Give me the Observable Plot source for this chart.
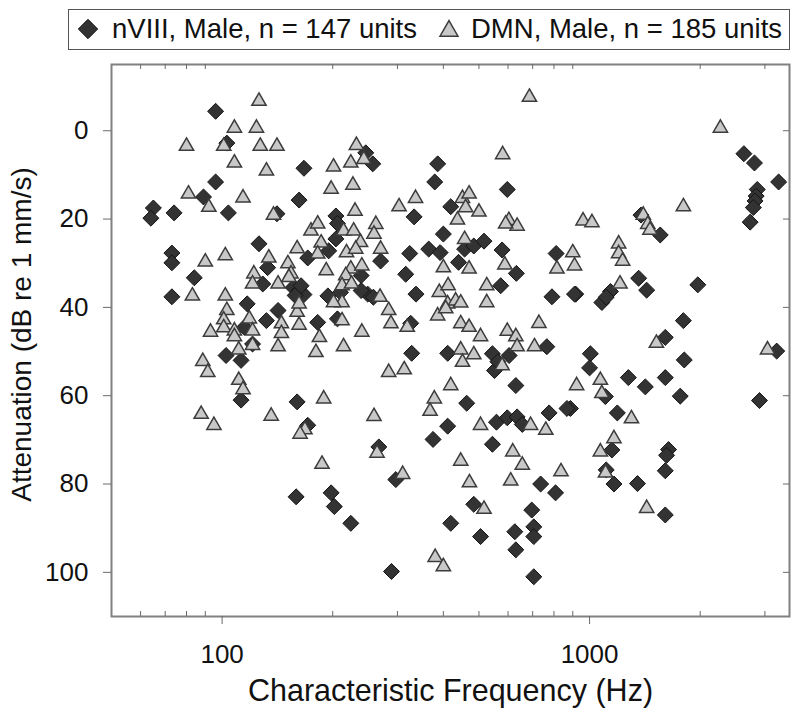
<!DOCTYPE html>
<html>
<head>
<meta charset="utf-8">
<script src="https://cdn.jsdelivr.net/npm/d3@7"></script>
<script src="https://cdn.jsdelivr.net/npm/@observablehq/plot@0.6"></script>
<style>
  html, body { margin: 0; padding: 0; background: #fff; }
  body { font-family: "Liberation Sans", Arial, Helvetica, sans-serif; color: #111; }
  #wrap { position: relative; width: 800px; height: 724px; overflow: hidden; }
  #legend { position: absolute; left: 68px; top: 9px; width: 722px; height: 41px;
            border: 1.5px solid #555; box-sizing: border-box; background: #fff; }
  #legend svg { position: absolute; left: 0; top: 0; }
  #legend span { position: absolute; top: 4px; font-size: 27.5px; line-height: 30px; white-space: nowrap; color: #111; }
  #chart { position: absolute; left: 0; top: 56px; }
</style>
</head>
<body>
<div id="wrap">
  <div id="legend"></div>
  <div id="chart"></div>
</div>
<script>
// ---- Data ----
const seriesNames = ["nVIII, Male, n = 147 units", "DMN, Male, n = 185 units"];
const xTitle = "Characteristic Frequency (Hz)";
const yTitle = "Attenuation (dB re 1 mm/s)";
const yTicks = [0, 20, 40, 60, 80, 100];
const xMajorTicks = [100, 1000];
const xMinorTicks = [60, 70, 80, 90, 200, 300, 400, 500, 600, 700, 800, 900, 2000, 3000];

// nVIII (black diamonds): [characteristic frequency Hz, attenuation dB]
const nviii = [
  [96,-4.4],[103,2.8],[96,11.6],[89,15],[65,17.5],[64,19.8],[74,18.6],[104,18.6],[167,8.5],[162,15.7],
  [141,18.8],[126,25.6],[73,27.7],[73,29.9],[133,31],[171,28.8],[84,33.3],[204,19.3],[206,21],[204,24.5],
  [195,27.2],[73,37.6],[117,39.2],[142,40.7],[132,43],[115,44.5],[121,48.3],[102.5,50.9],[112.6,52],[112.6,61],
  [160,61.4],[171,66.7],[156,35.5],[162,36.2],[167,37.1],[158,37.3],[164,35.1],[129,34.7],[182,43.4],[194,37.4],
  [206,42.6],[210,36.6],[159,82.9],[198,82],[202,85.1],[224,88.9],[297,79],[289,99.8],[419,88.9],[505,91.9],
  [484,84.6],[626,90.8],[630,94.9],[696,85.9],[705,89.7],[705,91.9],[705,101],[736,80],[808,82],[1165,80],
  [1350,79.9],[1607,87],[1607,77],[1110,76.8],[1360,33.4],[1430,36.1],[1970,34.9],[917,37],[1140,36.4],[1080,38.9],
  [1110,37.7],[1800,43],[1607,46.8],[1810,51.9],[1005,50.5],[1000,53.7],[1275,55.9],[1418,58],[1607,55.9],[1765,60.1],
  [2900,61.1],[3230,49.9],[1190,63.9],[1104,60.2],[1150,72.3],[1640,72.2],[1620,73.5],[887,62.9],[2630,5.2],[2810,7.3],
  [3270,11.6],[2860,13.3],[2840,14.8],[2820,15.9],[2790,17.4],[2735,20.7],[1380,19.1],[1557,23.6],[246,5],[257,7.5],
  [386,7.5],[379,11.6],[597,13.3],[333,19.5],[419,17.2],[400,23.4],[324,27.8],[270,29.5],[365,26.8],[392,27.6],
  [440,29.8],[457,26.8],[484,26.1],[516,25],[578,27],[632,32.3],[811,27.8],[316,32.5],[239,32.8],[337,37],
  [573,35.1],[790,37.6],[910,37],[249,37],[239,36.2],[258,37.7],[326,43.6],[328,50.4],[411,50.4],[544,50.5],
  [551,54.3],[604,50.9],[765,48.9],[630,57.7],[463,61.7],[411,66.9],[375,69.9],[544,71],[558,66],[597,65],
  [635,64.8],[656,66.5],[776,63.9],[868,62.9],[267,71.6],[563,52.3]
];

// DMN (grey triangles): [characteristic frequency Hz, attenuation dB]
const dmn = [
  [126,-6.7],[108,-0.6],[124,-0.6],[80,3.5],[101,3.5],[127,3.5],[141,3.5],[108,7.3],[132,9.1],[201,8.2],
  [198,13.2],[81,14.3],[92,17.3],[114,15.2],[138,19.1],[174.5,22.7],[182,21.1],[214,22.7],[186,25.4],[160,26.7],
  [182,27.9],[102,28.3],[90,29.7],[134,28.8],[151,30.1],[192,31.7],[122,32.4],[154,32.4],[224,7.3],[227,12.3],
  [686,-7.6],[580,5.4],[232,3.3],[230,18.2],[243,6.5],[303,17.2],[336,15.3],[437,20.2],[451,15.3],[470,14.3],
  [460,17.4],[500,18.4],[603,20.3],[635,21.6],[591,21.1],[457,24.6],[262,21.2],[259,23.4],[228,22.7],[238,25.3],
  [218,27.6],[231,26.8],[270,26.8],[224,31.3],[240,30.6],[400,31],[470,31.3],[588,30.4],[815,31.3],[900,27.6],
  [910,30.6],[2270,-0.6],[1800,17.2],[960,20.4],[1015,20.8],[1400,19.1],[1440,21.2],[1460,22.5],[1200,25.6],[1200,27.8],
  [1230,29.5],[1210,34.7],[1520,48.1],[3050,49.6],[922,57.7],[1070,56.5],[1080,59.5],[1300,65.2],[1165,69.7],[1070,72.7],
  [1105,77.5],[1430,85.5],[310,77.8],[471,79.7],[516,85.7],[610,79.3],[380,96.6],[400,98.7],[836,77.2],[656,75.7],
  [240,45.6],[269,37.7],[284,40.7],[288,43.7],[319,44.5],[390,36.6],[412,35.1],[411,39.2],[432,38.5],[446,39],
  [386,41.9],[406,40.3],[525,35.1],[525,38.9],[446,43.7],[470,44.5],[505,46.6],[597,45.4],[630,46.6],[635,48.9],
  [708,48.9],[728,43.6],[446,49.6],[484,50.7],[451,52.4],[578,53.2],[284,54.7],[313,54.1],[419,57.7],[378,60.7],
  [368,63.5],[259,64.7],[505,66.7],[691,66.7],[760,67.8],[264,73],[446,74.8],[618,72.7],[217,32.8],[212,35.1],
  [212,38.9],[212,43],[214,48.9],[83,37.4],[102,37.4],[103,40.7],[101,42.8],[101,44.6],[93,45.6],[108,45.3],
  [108,46.6],[118.6,42.6],[121,45.3],[121,48.6],[111,49.6],[145,43.7],[145,45.9],[142,48.9],[162,44],[160,41.1],
  [162,39.2],[184,46.8],[180,50.2],[201,38.9],[88.6,52.2],[91.4,54.7],[111,56.5],[114,58.6],[87.7,64.2],[95,66.7],
  [136,64.6],[189,60.7],[168,67.7],[163,68.7],[187,75.5],[121,34.7],[142,34.7],[152,33.2],[225,34.7]
];

// ---- Styles ----
const FONT = "'Liberation Sans', Arial, Helvetica, sans-serif";
const diamondStyle = {fill: "#333333", stroke: "#151515", strokeWidth: 1};
const triangleStyle = {fill: "#c8c8c8", stroke: "#3c3c3c", strokeWidth: 1.5};

// ---- Chart ----
const W = 800, H = 668;
const mT = 8, mB = 108, mL = 111, mR = 11;
const innerH = H - mT - mB, innerW = W - mL - mR;

const chart = Plot.plot({
  width: W, height: H,
  marginTop: mT, marginBottom: mB, marginLeft: mL, marginRight: mR,
  style: {fontFamily: FONT, color: "#111", background: "#fff", overflow: "visible"},
  x: {type: "log", domain: [50, 3500]},
  y: {domain: [-15, 110], reverse: true},
  marks: [
    Plot.frame({stroke: "#808080", strokeWidth: 2}),
    Plot.axisX({ticks: xMajorTicks, tickSize: 8, tickPadding: 20, fontSize: 26,
                tickFormat: d => String(d), label: null, stroke: "#6a6a6a"}),
    Plot.axisY({ticks: yTicks, tickSize: 8, tickPadding: 15, fontSize: 26,
                tickFormat: d => String(d), label: null, stroke: "#6a6a6a"}),
    Plot.tickX(xMinorTicks, {x: d => d, insetTop: innerH - 5, stroke: "#6a6a6a"}),
    Plot.tickX(xMinorTicks, {x: d => d, insetBottom: innerH - 5, stroke: "#6a6a6a"}),
    Plot.tickY(yTicks, {y: d => d, insetLeft: innerW - 6, stroke: "#6a6a6a"}),
    Plot.dot(nviii, {x: d => d[0], y: d => d[1], symbol: "diamond2", r: 7.2, ...diamondStyle}),
    Plot.dot(dmn, {x: d => d[0], y: d => d[1], symbol: "triangle", r: 5.3, ...triangleStyle}),
    Plot.text([xTitle], {text: d => d, frameAnchor: "bottom", textAnchor: "middle", dy: 84, lineAnchor: "bottom",
                         fontSize: 30.5, fill: "#111"}),
    Plot.text([yTitle], {text: d => d, frameAnchor: "left", textAnchor: "middle", lineAnchor: "middle",
                         dx: -89, dy: -6, rotate: -90, fontSize: 28, fill: "#111"})
  ]
});
document.getElementById("chart").appendChild(chart);

// ---- Legend (HTML above the SVG) ----
const legend = d3.select("#legend");
const lsvg = legend.append("svg").attr("width", 720).attr("height", 40);
lsvg.append("path")
  .attr("transform", "translate(19,19)")
  .attr("d", d3.symbol(d3.symbolDiamond2, 240)())
  .attr("fill", diamondStyle.fill).attr("stroke", diamondStyle.stroke).attr("stroke-width", 1);
lsvg.append("path")
  .attr("transform", "translate(380,21)")
  .attr("d", d3.symbol(d3.symbolTriangle, 140)())
  .attr("fill", triangleStyle.fill).attr("stroke", triangleStyle.stroke).attr("stroke-width", 1.5);
legend.append("span").style("left", "43px").text(seriesNames[0]);
legend.append("span").style("left", "402px").text(seriesNames[1]);
</script>
</body>
</html>
